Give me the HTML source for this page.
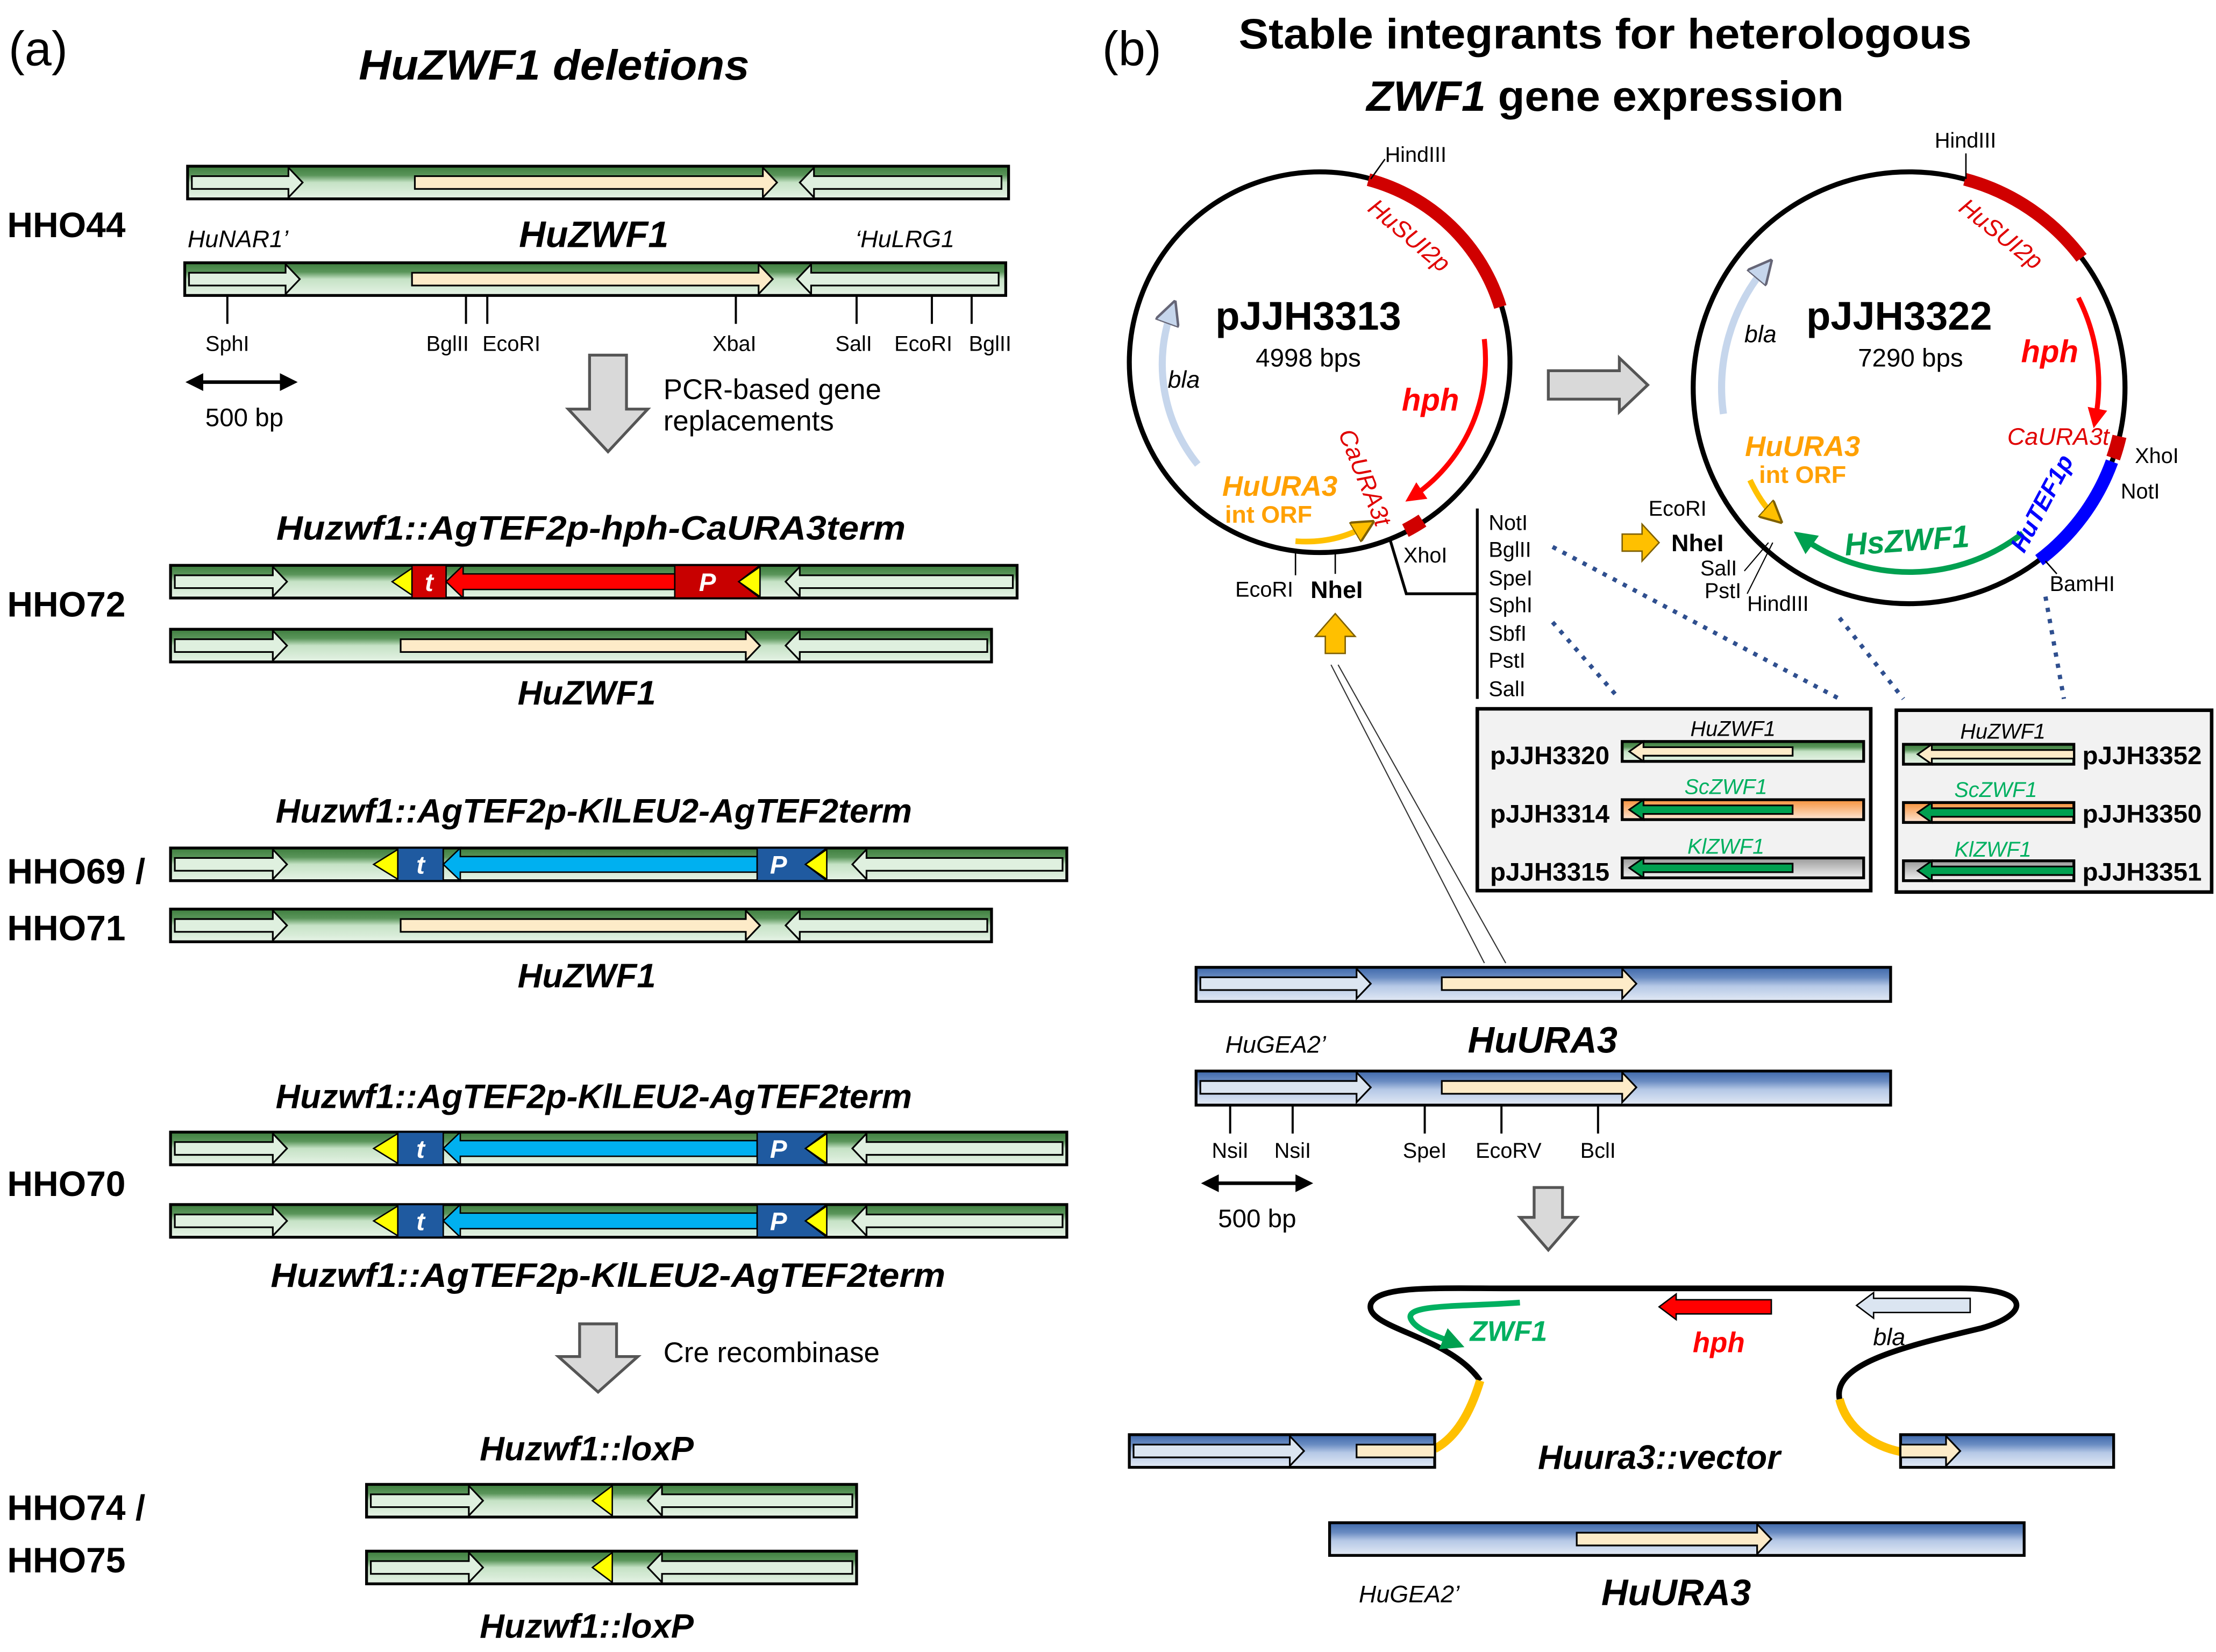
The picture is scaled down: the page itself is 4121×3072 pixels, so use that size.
<!DOCTYPE html>
<html><head><meta charset="utf-8"><style>
html,body{margin:0;padding:0;background:#fff}
svg{display:block}
text{font-family:"Liberation Sans",sans-serif}
.b{font-weight:bold}.i{font-style:italic}
</style></head><body>
<svg width="4121" height="3072" viewBox="0 0 1560 1163" xmlns="http://www.w3.org/2000/svg">
<defs>
<linearGradient id="g" x1="0" y1="0" x2="0" y2="1"><stop offset="0" stop-color="#3d7d3d"/><stop offset="0.28" stop-color="#5a955a"/><stop offset="0.5" stop-color="#c5e2c5"/><stop offset="1" stop-color="#e6f3e6"/></linearGradient>
<linearGradient id="bl" x1="0" y1="0" x2="0" y2="1"><stop offset="0" stop-color="#3e68aa"/><stop offset="0.3" stop-color="#6a8cc2"/><stop offset="0.55" stop-color="#b5c8e6"/><stop offset="1" stop-color="#e3eaf5"/></linearGradient>
<linearGradient id="or" x1="0" y1="0" x2="0" y2="1"><stop offset="0" stop-color="#f7923a"/><stop offset="1" stop-color="#fde6d6"/></linearGradient>
<linearGradient id="gy" x1="0" y1="0" x2="0" y2="1"><stop offset="0" stop-color="#999"/><stop offset="1" stop-color="#f2f2f2"/></linearGradient>
<marker id="mr" viewBox="0 0 10 10" refX="6" refY="5" markerWidth="4" markerHeight="4" orient="auto"><path d="M0,0L10,5L0,10z" fill="#ff0000"/></marker>
<marker id="mg" viewBox="0 0 10 10" refX="6" refY="5" markerWidth="4" markerHeight="4" orient="auto"><path d="M0,0L10,5L0,10z" fill="#00a050"/></marker>
<marker id="mb" viewBox="0 0 10 10" refX="6" refY="5" markerWidth="3.5" markerHeight="3.5" orient="auto"><path d="M0,0L10,5L0,10z" fill="#c6d6ec" stroke="#667" stroke-width="1"/></marker>
<marker id="mo" viewBox="0 0 10 10" refX="6" refY="5" markerWidth="4" markerHeight="4" orient="auto"><path d="M0,0L10,5L0,10z" fill="#ffc000" stroke="#7f6000" stroke-width="1"/></marker>
<marker id="mk" viewBox="0 0 10 10" refX="8" refY="5" markerWidth="5" markerHeight="5" orient="auto-start-reverse"><path d="M0,0L10,5L0,10z" fill="#000"/></marker>
<g id="kl">
<rect x="120" y="0" width="631" height="23" fill="url(#g)" stroke="#000" stroke-width="2"/>
<polygon points="123,7 192,7 192,1 202,11.5 192,22 192,16 123,16" fill="#dff0df" stroke="#000" stroke-width="1.2"/>
<polygon points="263,11.5 280,1 280,22" fill="#ffff00" stroke="#000" stroke-width="1"/>
<rect x="280" y="0" width="32" height="23" fill="#1f5aa0" stroke="#000" stroke-width="1"/>
<polygon points="533,6 324,6 324,0 312,11.5 324,23 324,17 533,17" fill="#00b0f0" stroke="#000" stroke-width="1"/>
<polygon points="533,0 582,0 567,11.5 582,23 533,23" fill="#1f5aa0" stroke="#000" stroke-width="1"/>
<polygon points="567,11.5 582,1 582,22" fill="#ffff00" stroke="#000" stroke-width="1"/>
<polygon points="748,7 610,7 610,1 600,11.5 610,22 610,16 748,16" fill="#dff0df" stroke="#000" stroke-width="1.2"/>
</g>
<g id="wt">
<rect x="120" y="0" width="578" height="23" fill="url(#g)" stroke="#000" stroke-width="2"/>
<polygon points="123,7 192,7 192,1 202,11.5 192,22 192,16 123,16" fill="#dff0df" stroke="#000" stroke-width="1.2"/>
<polygon points="282,7 525,7 525,1 535,11.5 525,22 525,16 282,16" fill="#fdebc8" stroke="#000" stroke-width="1.2"/>
<polygon points="695,7 563,7 563,1 553,11.5 563,22 563,16 695,16" fill="#dff0df" stroke="#000" stroke-width="1.2"/>
</g>
<g id="lox">
<rect x="258" y="0" width="345" height="23" fill="url(#g)" stroke="#000" stroke-width="2"/>
<polygon points="261,7 330,7 330,1 340,11.5 330,22 330,16 261,16" fill="#dff0df" stroke="#000" stroke-width="1.2"/>
<polygon points="417,11.5 431,1 431,22" fill="#ffff00" stroke="#000" stroke-width="1"/>
<polygon points="600,7 466,7 466,1 456,11.5 466,22 466,16 600,16" fill="#dff0df" stroke="#000" stroke-width="1.2"/>
</g>
<g id="ura">
<rect x="842" y="0" width="489" height="24" fill="url(#bl)" stroke="#000" stroke-width="2"/>
<polygon points="845,7 955,7 955,1 965,11.5 955,22 955,16 845,16" fill="#dbe5f1" stroke="#000" stroke-width="1.2"/>
<polygon points="1015,7 1142,7 1142,1 1152,11.5 1142,22 1142,16 1015,16" fill="#fdebc8" stroke="#000" stroke-width="1.2"/>
</g>
</defs>

<!-- (a) -->
<text x="6" y="46" font-size="34">(a)</text>
<text x="390" y="56" font-size="30" class="b i" text-anchor="middle" textLength="275" lengthAdjust="spacingAndGlyphs">HuZWF1 deletions</text>
<text x="5" y="167" font-size="25" class="b">HHO44</text>

<g transform="translate(0,117)">
<rect x="132" y="0" width="578" height="23" fill="url(#g)" stroke="#000" stroke-width="2"/>
<polygon points="135,7 203,7 203,1 213,11.5 203,22 203,16 135,16" fill="#dff0df" stroke="#000" stroke-width="1.2"/>
<polygon points="292,7 537,7 537,1 547,11.5 537,22 537,16 292,16" fill="#fdebc8" stroke="#000" stroke-width="1.2"/>
<polygon points="705,7 573,7 573,1 563,11.5 573,22 573,16 705,16" fill="#dff0df" stroke="#000" stroke-width="1.2"/>
</g>
<text x="132" y="174" font-size="17" class="i">HuNAR1’</text>
<text x="418" y="174" font-size="26" class="b i" text-anchor="middle">HuZWF1</text>
<text x="602" y="174" font-size="17" class="i">‘HuLRG1</text>
<g transform="translate(0,185)">
<rect x="130" y="0" width="578" height="23" fill="url(#g)" stroke="#000" stroke-width="2"/>
<polygon points="133,7 201,7 201,1 211,11.5 201,22 201,16 133,16" fill="#dff0df" stroke="#000" stroke-width="1.2"/>
<polygon points="290,7 534,7 534,1 544,11.5 534,22 534,16 290,16" fill="#fdebc8" stroke="#000" stroke-width="1.2"/>
<polygon points="703,7 571,7 571,1 561,11.5 571,22 571,16 703,16" fill="#dff0df" stroke="#000" stroke-width="1.2"/>
</g>
<g stroke="#000" stroke-width="1.5">
<line x1="160" y1="208" x2="160" y2="228"/><line x1="328" y1="208" x2="328" y2="228"/><line x1="343" y1="208" x2="343" y2="228"/><line x1="518" y1="208" x2="518" y2="228"/><line x1="603" y1="208" x2="603" y2="228"/><line x1="656" y1="208" x2="656" y2="228"/><line x1="684" y1="208" x2="684" y2="228"/>
</g>
<g font-size="15" text-anchor="middle">
<text x="160" y="247">SphI</text><text x="315" y="247">BglII</text><text x="360" y="247">EcoRI</text><text x="517" y="247">XbaI</text><text x="601" y="247">SalI</text><text x="650" y="247">EcoRI</text><text x="697" y="247">BglII</text>
</g>
<line x1="133" y1="269" x2="207" y2="269" stroke="#000" stroke-width="2.5" marker-start="url(#mk)" marker-end="url(#mk)"/>
<text x="172" y="300" font-size="18" text-anchor="middle">500 bp</text>
<polygon points="415,250 441,250 441,288 456,288 428,318 400,288 415,288" fill="#d9d9d9" stroke="#555" stroke-width="2"/>
<text x="467" y="281" font-size="20">PCR-based gene</text>
<text x="467" y="303" font-size="20">replacements</text>

<text x="416" y="380" font-size="24" class="b i" text-anchor="middle" textLength="443" lengthAdjust="spacingAndGlyphs">Huzwf1::AgTEF2p-hph-CaURA3term</text>
<text x="5" y="434" font-size="25" class="b">HHO72</text>
<g transform="translate(0,398)">
<rect x="120" y="0" width="596" height="23" fill="url(#g)" stroke="#000" stroke-width="2"/>
<polygon points="123,7 192,7 192,1 202,11.5 192,22 192,16 123,16" fill="#dff0df" stroke="#000" stroke-width="1.2"/>
<polygon points="276,11.5 290,2 290,21" fill="#ffff00" stroke="#000" stroke-width="1"/>
<rect x="290" y="0" width="24" height="23" fill="#d00000" stroke="#000" stroke-width="1"/>
<polygon points="475,6 326,6 326,0 314,11.5 326,23 326,17 475,17" fill="#ff0000" stroke="#000" stroke-width="1"/>
<polygon points="475,0 535,0 520,11.5 535,23 475,23" fill="#c80000" stroke="#000" stroke-width="1"/>
<polygon points="520,11.5 535,1 535,22" fill="#ffff00" stroke="#000" stroke-width="1"/>
<polygon points="713,7 563,7 563,1 553,11.5 563,22 563,16 713,16" fill="#dff0df" stroke="#000" stroke-width="1.2"/>
<text x="302" y="18" font-size="18" class="b i" fill="#fff" text-anchor="middle">t</text>
<text x="498" y="18" font-size="18" class="b i" fill="#fff" text-anchor="middle">P</text>
</g>
<use href="#wt" transform="translate(0,443)"/>
<text x="413" y="496" font-size="24" class="b i" text-anchor="middle">HuZWF1</text>

<text x="418" y="579" font-size="24" class="b i" text-anchor="middle" textLength="448" lengthAdjust="spacingAndGlyphs">Huzwf1::AgTEF2p-KlLEU2-AgTEF2term</text>
<text x="5" y="622" font-size="25" class="b">HHO69 /</text>
<text x="5" y="662" font-size="25" class="b">HHO71</text>
<use href="#kl" transform="translate(0,597)"/>
<text x="296" y="615" font-size="18" class="b i" fill="#fff" text-anchor="middle">t</text>
<text x="548" y="615" font-size="18" class="b i" fill="#fff" text-anchor="middle">P</text>
<use href="#wt" transform="translate(0,640)"/>
<text x="413" y="695" font-size="24" class="b i" text-anchor="middle">HuZWF1</text>

<text x="418" y="780" font-size="24" class="b i" text-anchor="middle" textLength="448" lengthAdjust="spacingAndGlyphs">Huzwf1::AgTEF2p-KlLEU2-AgTEF2term</text>
<text x="5" y="842" font-size="25" class="b">HHO70</text>
<use href="#kl" transform="translate(0,797)"/>
<text x="296" y="815" font-size="18" class="b i" fill="#fff" text-anchor="middle">t</text>
<text x="548" y="815" font-size="18" class="b i" fill="#fff" text-anchor="middle">P</text>
<use href="#kl" transform="translate(0,848)"/>
<text x="296" y="866" font-size="18" class="b i" fill="#fff" text-anchor="middle">t</text>
<text x="548" y="866" font-size="18" class="b i" fill="#fff" text-anchor="middle">P</text>
<text x="428" y="906" font-size="24" class="b i" text-anchor="middle" textLength="475" lengthAdjust="spacingAndGlyphs">Huzwf1::AgTEF2p-KlLEU2-AgTEF2term</text>
<polygon points="408,932 434,932 434,955 449,955 421,980 393,955 408,955" fill="#d9d9d9" stroke="#555" stroke-width="2"/>
<text x="467" y="959" font-size="20">Cre recombinase</text>
<text x="413" y="1028" font-size="24" class="b i" text-anchor="middle">Huzwf1::loxP</text>
<text x="5" y="1070" font-size="25" class="b">HHO74 /</text>
<text x="5" y="1107" font-size="25" class="b">HHO75</text>
<use href="#lox" transform="translate(0,1045)"/>
<use href="#lox" transform="translate(0,1092)"/>
<text x="413" y="1153" font-size="24" class="b i" text-anchor="middle">Huzwf1::loxP</text>

<!-- (b) -->
<text x="776" y="46" font-size="34">(b)</text>
<text x="1130" y="34" font-size="30" class="b" text-anchor="middle" textLength="516" lengthAdjust="spacingAndGlyphs">Stable integrants for heterologous</text>
<text x="1130" y="78" font-size="30" class="b" text-anchor="middle" textLength="336" lengthAdjust="spacingAndGlyphs"><tspan class="i">ZWF1</tspan> gene expression</text>

<!-- circle 1 -->
<circle cx="929" cy="255" r="134" fill="none" stroke="#000" stroke-width="3.5"/>
<path d="M963.4,126.5 A133,133 0 0 1 1056.2,216.1" fill="none" stroke="#d00000" stroke-width="9"/>
<path d="M1001.4,366.5 A133,133 0 0 1 989.4,373.5" fill="none" stroke="#d00000" stroke-width="10"/>
<path d="M1044.9,238.7 A117,117 0 0 1 994,350" fill="none" stroke="#ff0000" stroke-width="3.5" marker-end="url(#mr)"/>
<path d="M843.2,327 A112,112 0 0 1 825,218" fill="none" stroke="#c6d6ec" stroke-width="5" marker-end="url(#mb)"/>
<path d="M912,381 Q940,383 962,370" fill="none" stroke="#ffc000" stroke-width="4" marker-end="url(#mo)"/>
<line x1="965" y1="126" x2="975" y2="112" stroke="#000" stroke-width="1"/>
<text x="975" y="114" font-size="15">HindIII</text>
<text x="962" y="148" font-size="17" class="i" fill="#e00000" transform="rotate(40 962 148)">HuSUI2p</text>
<text x="921" y="232" font-size="28" class="b" text-anchor="middle">pJJH3313</text>
<text x="921" y="258" font-size="18" text-anchor="middle">4998 bps</text>
<text x="1007" y="289" font-size="22" class="b i" fill="#ff0000" text-anchor="middle">hph</text>
<text x="822" y="273" font-size="17" class="i">bla</text>
<text x="942" y="305" font-size="17" class="i" fill="#e00000" transform="rotate(68 942 305)">CaURA3t</text>
<text x="901" y="349" font-size="20" class="b i" fill="#ffa000" text-anchor="middle">HuURA3</text>
<text x="893" y="368" font-size="17" class="b" fill="#ffa000" text-anchor="middle">int ORF</text>
<text x="890" y="420" font-size="15" text-anchor="middle">EcoRI</text>
<line x1="912" y1="388" x2="912" y2="405" stroke="#000" stroke-width="1"/>
<text x="941" y="421" font-size="17" class="b" text-anchor="middle">NheI</text>
<line x1="940" y1="388" x2="940" y2="404" stroke="#000" stroke-width="1"/>
<text x="988" y="396" font-size="15">XhoI</text>
<polyline points="978,378 990,418 1040,418" fill="none" stroke="#000" stroke-width="2"/>
<line x1="1040" y1="358" x2="1040" y2="492" stroke="#000" stroke-width="2"/>
<g font-size="15"><text x="1048" y="373">NotI</text><text x="1048" y="392">BglII</text><text x="1048" y="412">SpeI</text><text x="1048" y="431">SphI</text><text x="1048" y="451">SbfI</text><text x="1048" y="470">PstI</text><text x="1048" y="490">SalI</text></g>
<polygon points="933,460 947,460 947,448 954,448 940,432 926,448 933,448" fill="#ffc000" stroke="#7f6000" stroke-width="1"/>
<line x1="937" y1="468" x2="1045" y2="678" stroke="#333" stroke-width="0.8"/>
<line x1="942" y1="468" x2="1060" y2="678" stroke="#333" stroke-width="0.8"/>

<polygon points="1090,261 1140,261 1140,252 1160,271 1140,290 1140,281 1090,281" fill="#d9d9d9" stroke="#555" stroke-width="2"/>

<!-- circle 2 -->
<circle cx="1344" cy="273" r="152" fill="none" stroke="#000" stroke-width="3.5"/>
<path d="M1383.3,126.2 A152,152 0 0 1 1465.4,181.5" fill="none" stroke="#d00000" stroke-width="9"/>
<path d="M1492.1,307.2 A152,152 0 0 1 1487.7,322.5" fill="none" stroke="#d00000" stroke-width="10"/>
<path d="M1486.8,325 A152,152 0 0 1 1435.5,394.4" fill="none" stroke="#0000ff" stroke-width="9"/>
<path d="M1463.2,209.6 A135,135 0 0 1 1475,296" fill="none" stroke="#ff0000" stroke-width="3.5" marker-end="url(#mr)"/>
<path d="M1424,375.4 A130,130 0 0 1 1268,378" fill="none" stroke="#00a050" stroke-width="4" marker-end="url(#mg)"/>
<path d="M1213.3,291.4 A132,132 0 0 1 1243,188" fill="none" stroke="#c6d6ec" stroke-width="5" marker-end="url(#mb)"/>
<path d="M1232,338 Q1240,355 1250,364" fill="none" stroke="#ffc000" stroke-width="4" marker-end="url(#mo)"/>
<line x1="1384" y1="126" x2="1384" y2="108" stroke="#000" stroke-width="1"/>
<text x="1362" y="104" font-size="15">HindIII</text>
<text x="1378" y="148" font-size="17" class="i" fill="#e00000" transform="rotate(38 1378 148)">HuSUI2p</text>
<text x="1337" y="232" font-size="28" class="b" text-anchor="middle">pJJH3322</text>
<text x="1345" y="258" font-size="18" text-anchor="middle">7290 bps</text>
<text x="1228" y="241" font-size="17" class="i">bla</text>
<text x="1443" y="255" font-size="22" class="b i" fill="#ff0000" text-anchor="middle">hph</text>
<text x="1449" y="313" font-size="17" class="i" fill="#e00000" text-anchor="middle">CaURA3t</text>
<text x="1503" y="326" font-size="15">XhoI</text>
<text x="1493" y="351" font-size="15">NotI</text>
<text x="1425" y="390" font-size="17" class="b i" fill="#0000ff" transform="rotate(-62 1425 390)">HuTEF1p</text>
<text x="1343" y="388" font-size="22" class="b i" fill="#00a050" text-anchor="middle" transform="rotate(-4 1343 388)">HsZWF1</text>
<text x="1269" y="321" font-size="20" class="b i" fill="#ffa000" text-anchor="middle">HuURA3</text>
<text x="1269" y="340" font-size="17" class="b" fill="#ffa000" text-anchor="middle">int ORF</text>
<text x="1181" y="363" font-size="15" text-anchor="middle">EcoRI</text>
<text x="1195" y="388" font-size="17" class="b" text-anchor="middle">NheI</text>
<polygon points="1142,376 1156,376 1156,369 1168,382 1156,395 1156,388 1142,388" fill="#ffc000" stroke="#7f6000" stroke-width="1"/>
<text x="1197" y="405" font-size="15">SalI</text>
<text x="1200" y="421" font-size="15">PstI</text>
<line x1="1228" y1="402" x2="1245" y2="382" stroke="#000" stroke-width="0.8"/>
<line x1="1230" y1="418" x2="1248" y2="382" stroke="#000" stroke-width="0.8"/>
<text x="1230" y="430" font-size="15">HindIII</text>
<text x="1443" y="416" font-size="15">BamHI</text>
<line x1="1440" y1="395" x2="1448" y2="404" stroke="#000" stroke-width="1"/>

<g stroke="#2f4f8f" stroke-width="3" stroke-dasharray="3,5" fill="none">
<line x1="1093" y1="385" x2="1295" y2="492"/>
<line x1="1093" y1="438" x2="1140" y2="492"/>
<line x1="1295" y1="435" x2="1340" y2="492"/>
<line x1="1440" y1="420" x2="1453" y2="492"/>
</g>

<!-- boxes -->
<rect x="1040" y="499" width="277" height="128" fill="#f2f2f2" stroke="#000" stroke-width="2.5"/>
<rect x="1335" y="500" width="222" height="128" fill="#f2f2f2" stroke="#000" stroke-width="2.5"/>
<g font-size="18" class="b">
<text x="1049" y="538">pJJH3320</text><text x="1049" y="579">pJJH3314</text><text x="1049" y="620">pJJH3315</text>
<text x="1466" y="538">pJJH3352</text><text x="1466" y="579">pJJH3350</text><text x="1466" y="620">pJJH3351</text>
</g>
<g font-size="15" class="i" text-anchor="middle">
<text x="1220" y="518">HuZWF1</text><text x="1215" y="559" fill="#00b060">ScZWF1</text><text x="1215" y="601" fill="#00b060">KlZWF1</text>
<text x="1410" y="520">HuZWF1</text><text x="1405" y="561" fill="#00b060">ScZWF1</text><text x="1403" y="603" fill="#00b060">KlZWF1</text>
</g>
<g transform="translate(0,522)"><rect x="1142" y="0" width="170" height="14" fill="url(#g)" stroke="#000" stroke-width="2"/><polygon points="1262,4 1157,4 1157,0 1147,7 1157,14 1157,10 1262,10" fill="#fdebc8" stroke="#000" stroke-width="1.2"/></g>
<g transform="translate(0,563)"><rect x="1142" y="0" width="170" height="14" fill="url(#or)" stroke="#000" stroke-width="2"/><polygon points="1262,4 1157,4 1157,0 1147,7 1157,14 1157,10 1262,10" fill="#00a050" stroke="#000" stroke-width="1.2"/></g>
<g transform="translate(0,604)"><rect x="1142" y="0" width="170" height="14" fill="url(#gy)" stroke="#000" stroke-width="2"/><polygon points="1262,4 1157,4 1157,0 1147,7 1157,14 1157,10 1262,10" fill="#00a050" stroke="#000" stroke-width="1.2"/></g>
<g transform="translate(0,524)"><rect x="1340" y="0" width="120" height="14" fill="url(#g)" stroke="#000" stroke-width="2"/><polygon points="1460,4 1360,4 1360,0 1350,7 1360,14 1360,10 1460,10" fill="#fdebc8" stroke="#000" stroke-width="1.2"/></g>
<g transform="translate(0,565)"><rect x="1340" y="0" width="120" height="14" fill="url(#or)" stroke="#000" stroke-width="2"/><polygon points="1460,4 1360,4 1360,0 1350,7 1360,14 1360,10 1460,10" fill="#00a050" stroke="#000" stroke-width="1.2"/></g>
<g transform="translate(0,606)"><rect x="1340" y="0" width="120" height="14" fill="url(#gy)" stroke="#000" stroke-width="2"/><polygon points="1460,4 1360,4 1360,0 1350,7 1360,14 1360,10 1460,10" fill="#00a050" stroke="#000" stroke-width="1.2"/></g>

<!-- URA3 -->
<use href="#ura" transform="translate(0,681)"/>
<text x="898" y="741" font-size="17" class="i" text-anchor="middle">HuGEA2’</text>
<text x="1086" y="741" font-size="26" class="b i" text-anchor="middle">HuURA3</text>
<use href="#ura" transform="translate(0,754)"/>
<g stroke="#000" stroke-width="1.5">
<line x1="866" y1="778" x2="866" y2="798"/><line x1="910" y1="778" x2="910" y2="798"/><line x1="1003" y1="778" x2="1003" y2="798"/><line x1="1057" y1="778" x2="1057" y2="798"/><line x1="1125" y1="778" x2="1125" y2="798"/>
</g>
<g font-size="15" text-anchor="middle"><text x="866" y="815">NsiI</text><text x="910" y="815">NsiI</text><text x="1003" y="815">SpeI</text><text x="1062" y="815">EcoRV</text><text x="1125" y="815">BclI</text></g>
<line x1="848" y1="833" x2="922" y2="833" stroke="#000" stroke-width="2.5" marker-start="url(#mk)" marker-end="url(#mk)"/>
<text x="885" y="864" font-size="18" text-anchor="middle">500 bp</text>
<polygon points="1080,836 1100,836 1100,857 1110,857 1090,880 1070,857 1080,857" fill="#d9d9d9" stroke="#555" stroke-width="2"/>

<!-- integration loop -->
<path d="M1042,972 C1020,940 960,935 965,918 C970,905 1010,907 1060,907 L1380,907 C1430,907 1430,925 1395,935 C1340,948 1290,960 1295,985" fill="none" stroke="#000" stroke-width="4"/>
<path d="M1042,972 C1035,995 1025,1012 1010,1020" fill="none" stroke="#ffc000" stroke-width="6"/>
<path d="M1295,985 C1300,1005 1318,1018 1338,1022" fill="none" stroke="#ffc000" stroke-width="6"/>
<path d="M1070,917 C1030,920 990,918 993,928 C996,936 1010,940 1025,946" fill="none" stroke="#00b060" stroke-width="4" marker-end="url(#mg)"/>
<text x="1062" y="944" font-size="20" class="b i" fill="#00b060" text-anchor="middle">ZWF1</text>
<polygon points="1247,915 1180,915 1180,911 1168,920 1180,929 1180,925 1247,925" fill="#ff0000" stroke="#000" stroke-width="1"/>
<text x="1210" y="952" font-size="20" class="b i" fill="#ff0000" text-anchor="middle">hph</text>
<polygon points="1387,914 1319,914 1319,910 1307,919 1319,928 1319,924 1387,924" fill="#dbe5f1" stroke="#000" stroke-width="1"/>
<text x="1330" y="947" font-size="17" class="i" text-anchor="middle">bla</text>
<g transform="translate(0,1010)">
<rect x="795" y="0" width="215" height="23" fill="url(#bl)" stroke="#000" stroke-width="2"/>
<polygon points="798,7 908,7 908,1 918,11.5 908,22 908,16 798,16" fill="#dbe5f1" stroke="#000" stroke-width="1.2"/>
<rect x="955" y="7" width="55" height="9" fill="#fdebc8" stroke="#000" stroke-width="1.2"/>
<rect x="1338" y="0" width="150" height="23" fill="url(#bl)" stroke="#000" stroke-width="2"/>
<polygon points="1338,7 1370,7 1370,1 1380,11.5 1370,22 1370,16 1338,16" fill="#fdebc8" stroke="#000" stroke-width="1.2"/>
</g>
<text x="1168" y="1034" font-size="24" class="b i" text-anchor="middle">Huura3::vector</text>
<g transform="translate(0,1072)">
<rect x="936" y="0" width="489" height="23" fill="url(#bl)" stroke="#000" stroke-width="2"/>
<polygon points="1110,7 1237,7 1237,1 1247,11.5 1237,22 1237,16 1110,16" fill="#fdebc8" stroke="#000" stroke-width="1.2"/>
</g>
<text x="992" y="1128" font-size="17" class="i" text-anchor="middle">HuGEA2’</text>
<text x="1180" y="1130" font-size="26" class="b i" text-anchor="middle">HuURA3</text>
</svg>
</body></html>
